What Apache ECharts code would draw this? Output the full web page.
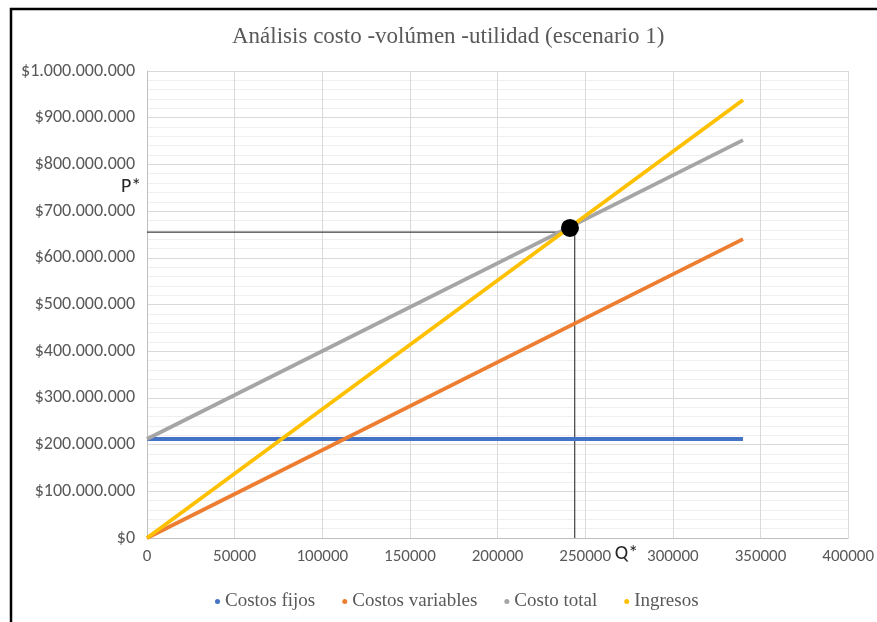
<!DOCTYPE html>
<html>
<head>
<meta charset="utf-8">
<script src="https://cdn.jsdelivr.net/npm/echarts@6/dist/echarts.min.js"></script>
<style>
  html, body { margin: 0; padding: 0; background: #fff; }
  #chart { width: 877px; height: 622px; }
</style>
</head>
<body>
<div id="chart"></div>
<script>
// Units produced (Q) at the start and end of each cost/revenue line
const quantities = [0, 340000];
// Money values at those quantities
const costosFijos = [212000000, 212000000];
const costosVariables = [0, 640000000];
const costoTotal = [212000000, 852000000];
const ingresos = [0, 938000000];

// Break-even point (Q*, P*) and the guide lines drawn to the axes
const puntoEquilibrio = [241300, 664000000];
const guiaQ = 244000;
const guiaP = 655000000;

const seriesNames = ['Costos fijos', 'Costos variables', 'Costo total', 'Ingresos'];
const seriesColors = ['#4472C4', '#ED7D31', '#A5A5A5', '#FFC000'];
const xTicks = { min: 0, max: 400000, interval: 50000 };
const yTicks = { min: 0, max: 1000000000, interval: 100000000 };

const pair = (ys) => quantities.map((q, i) => [q, ys[i]]);

function money(v) {
  return '$' + String(Math.round(v)).replace(/\B(?=(\d{3})+(?!\d))/g, '.');
}

const chart = echarts.init(document.getElementById('chart'));
const labelFont = 'Carlito, Lato, "Liberation Sans", sans-serif';
const serifFont = '"Liberation Serif", "DejaVu Serif", serif';

const lineSeries = [costosFijos, costosVariables, costoTotal, ingresos].map((ys, i) => ({
  name: seriesNames[i],
  type: 'line',
  data: pair(ys),
  showSymbol: false,
  symbol: 'circle',
  lineStyle: { width: 3.8, color: seriesColors[i] },
  itemStyle: { color: seriesColors[i] },
  z: 3 + i,
  silent: true
}));

const frame = {
  type: 'polyline',
  shape: { points: [[877, 9], [11, 9], [11, 622]] },
  style: { stroke: '#000', lineWidth: 2.5, fill: null }
};

chart.setOption({
  animation: false,
  backgroundColor: '#fff',
  title: {
    text: 'Análisis costo -volúmen -utilidad (escenario 1)',
    left: 227,
    top: 20,
    textStyle: { fontFamily: serifFont, fontSize: 23, fontWeight: 'normal', color: '#595959' }
  },
  legend: {
    data: seriesNames,
    bottom: 6,
    left: 210,
    icon: 'circle',
    itemWidth: 5,
    itemHeight: 5,
    itemGap: 27,
    textStyle: { fontFamily: serifFont, fontSize: 19, color: '#595959' }
  },
  grid: { left: 147, right: 27, top: 71, bottom: 84, containLabel: false },
  xAxis: {
    type: 'value',
    min: xTicks.min,
    max: xTicks.max,
    interval: xTicks.interval,
    axisLine: { show: true, lineStyle: { color: '#BFBFBF' } },
    axisTick: { show: false },
    axisLabel: { color: '#595959', fontFamily: labelFont, fontSize: 17, margin: 10, formatter: (v) => String(v) },
    splitLine: { show: true, lineStyle: { color: '#D9D9D9', width: 1 } }
  },
  yAxis: {
    type: 'value',
    min: yTicks.min,
    max: yTicks.max,
    interval: yTicks.interval,
    axisLine: { show: true, lineStyle: { color: '#BFBFBF' } },
    axisTick: { show: false },
    axisLabel: { color: '#595959', fontFamily: labelFont, fontSize: 18, margin: 12, formatter: money },
    splitLine: { show: true, lineStyle: { color: '#D9D9D9', width: 1 } },
    minorTick: { show: false, splitNumber: 5 },
    minorSplitLine: { show: true, lineStyle: { color: '#EFEFEF', width: 1 } }
  },
  series: [
    ...lineSeries,
    {
      name: 'guia',
      type: 'line',
      data: [[0, guiaP], [guiaQ, guiaP], [guiaQ, 0]],
      showSymbol: false,
      lineStyle: { width: 1.2, color: '#404040' },
      z: 2,
      silent: true
    },
    {
      name: 'equilibrio',
      type: 'scatter',
      data: [puntoEquilibrio],
      symbolSize: 18,
      itemStyle: { color: '#000', opacity: 1 },
      z: 10,
      silent: true
    }
  ],
  graphic: [frame]
});

// Q* and P* labels placed next to the break-even guides
const pq = chart.convertToPixel({ gridIndex: 0 }, [guiaQ, 0]);
const pp = chart.convertToPixel({ gridIndex: 0 }, [0, guiaP]);
chart.setOption({
  graphic: [
    frame,
    {
      type: 'text',
      x: pq[0] + 40,
      y: pq[1] + 6,
      style: { text: 'Q*', font: '20px ' + labelFont, fill: '#262626' }
    },
    {
      type: 'text',
      x: pp[0] - 26,
      y: pp[1] - 55,
      style: { text: 'P*', font: '20px ' + labelFont, fill: '#262626' }
    }
  ]
});
</script>
</body>
</html>
